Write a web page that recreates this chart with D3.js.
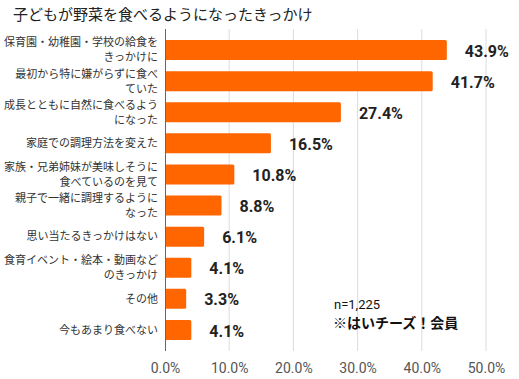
<!DOCTYPE html>
<html><head><meta charset="utf-8">
<script src="https://cdn.jsdelivr.net/npm/d3@7"></script>
<style>body{margin:0;background:#fff;} svg{display:block;}</style>
</head><body>
<svg id="c" width="519" height="379"></svg>
<script>
const title = "子どもが野菜を食べるようになったきっかけ";
const categories = [
  ["保育園・幼稚園・学校の給食を","きっかけに"],
  ["最初から特に嫌がらずに食べ","ていた"],
  ["成長とともに自然に食べるよう","になった"],
  ["家庭での調理方法を変えた"],
  ["家族・兄弟姉妹が美味しそうに","食べているのを見て"],
  ["親子で一緒に調理するように","なった"],
  ["思い当たるきっかけはない"],
  ["食育イベント・絵本・動画など","のきっかけ"],
  ["その他"],
  ["今もあまり食べない"]
];
const values = [43.9, 41.7, 27.4, 16.5, 10.8, 8.8, 6.1, 4.1, 3.3, 4.1];
const xTicks = [0, 10, 20, 30, 40, 50];
const notes = ["n=1,225", "※はいチーズ！会員"];

(function(){
const svg = d3.select("#c");
const pL = 165, pR = 486, pT = 29, pB = 351;
const jp = "'Noto Sans CJK JP','Noto Sans',sans-serif";
const num = "Roboto,'Noto Sans',sans-serif";

const x = d3.scaleLinear().domain([0, 50]).range([pL, pR]);
const y = d3.scaleBand().domain(d3.range(values.length)).range([pT, pB]).padding(0.357);

svg.append("text").attr("x", 13).attr("y", 15).attr("dy", "0.35em")
  .attr("font-family", jp).attr("font-size", 15).attr("fill", "#222").text(title);

svg.append("g").selectAll("line").data(xTicks.slice(1)).join("line")
  .attr("x1", d => x(d)).attr("x2", d => x(d)).attr("y1", pT).attr("y2", pB)
  .attr("stroke", "#dcdcdc").attr("stroke-width", 1);

const xAxis = d3.axisBottom(x).tickValues(xTicks).tickFormat(d => d.toFixed(1) + "%").tickSize(0).tickPadding(0);
const gx = svg.append("g").attr("transform", `translate(0,${pB})`).call(xAxis);
gx.select(".domain").remove();
gx.selectAll("text").attr("y", 17).attr("dy", "0.35em")
  .attr("font-family", num).attr("font-size", 14).attr("fill", "#555");

svg.append("g").selectAll("rect").data(values).join("rect")
  .attr("x", x(0)).attr("y", (d, i) => y(i))
  .attr("width", d => x(d) - x(0)).attr("height", y.bandwidth())
  .attr("rx", 1.5).attr("fill", "#ff6600");

svg.append("line").attr("x1", pL + 0.5).attr("x2", pL + 0.5).attr("y1", pT).attr("y2", pB)
  .attr("stroke", "#666").attr("stroke-width", 1);

svg.append("g").selectAll("text").data(values).join("text")
  .attr("x", d => x(d) + 18).attr("y", (d, i) => y(i) + y.bandwidth() / 2 + 1).attr("dy", "0.35em")
  .attr("font-family", num).attr("font-weight", "bold").attr("font-size", 16).attr("fill", "#222")
  .text(d => d.toFixed(1) + "%");

const cl = svg.append("g").selectAll("text").data(categories).join("text")
  .attr("text-anchor", "end")
  .attr("font-family", jp).attr("font-size", 11).attr("fill", "#333");
cl.each(function(lines, i) {
  const t = d3.select(this);
  const cy = y(i) + y.bandwidth() / 2;
  const lh = 15;
  const start = cy - (lines.length - 1) * lh / 2;
  lines.forEach((s, k) => {
    t.append("tspan").attr("x", 158).attr("y", start + k * lh).attr("dy", "0.35em").text(s);
  });
});

svg.append("text").attr("x", 334).attr("y", 304).attr("dy", "0.35em")
  .attr("font-family", num).attr("font-size", 13).attr("fill", "#111").text(notes[0]);
svg.append("text").attr("x", 333).attr("y", 323).attr("dy", "0.35em")
  .attr("font-family", jp).attr("font-weight", "bold").attr("font-size", 14).attr("fill", "#111").text(notes[1]);
})();
</script>
</body></html>
